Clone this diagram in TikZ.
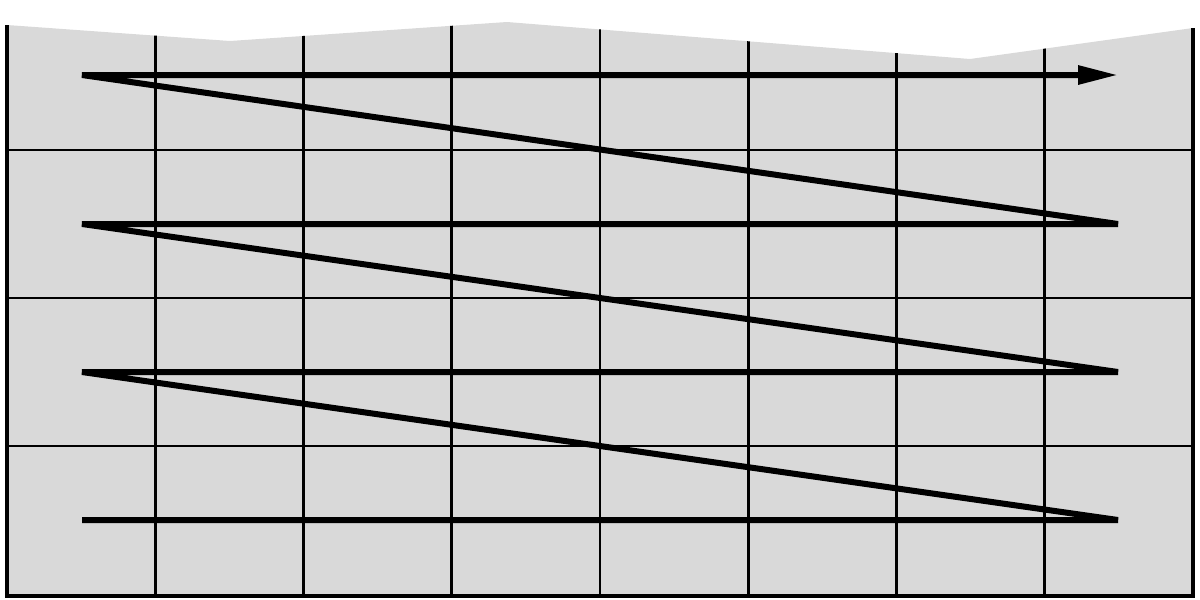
\documentclass[tikz,border=0pt]{standalone}
\usetikzlibrary{arrows.meta}
\definecolor{cellgray}{RGB}{217,217,217}
\tikzset{
  gridline/.style={line width=2.6pt, black},
  edgeline/.style={line width=3.2pt, black},
  scanpath/.style={line width=6pt, black, line join=bevel},
}
\begin{document}
\begin{tikzpicture}[x=1pt,y=-1pt]
\useasboundingbox (0,0) rectangle (1200,600);
% gray area with jagged top
\coordinate (tl) at (7,25);
\coordinate (tr) at (1193,28);
\coordinate (bl) at (7,596);
\coordinate (br) at (1193,596);
\fill[cellgray] (tl) -- (230,41) -- (507,22) -- (970,59) -- (tr) -- (br) -- (bl) -- cycle;
\begin{scope}
  \clip (tl) -- (230,41) -- (507,22) -- (970,59) -- (tr) -- (br) -- (bl) -- cycle;
  \foreach \i in {1,...,7} {
    \draw[gridline] ({7+148.25*\i},0) -- ({7+148.25*\i},596);
  }
  \foreach \y in {150,298,446} {
    \draw[gridline] (7,\y) -- (1193,\y);
  }
\end{scope}
% outer edges
\draw[edgeline] (tl) -- (bl) -- (br) -- (tr);
% raster scan path
\coordinate (s0) at (82,520);
\coordinate (e0) at (1118,520);
\coordinate (s1) at (82,372);
\coordinate (e1) at (1118,372);
\coordinate (s2) at (82,224);
\coordinate (e2) at (1118,224);
\coordinate (s3) at (82,75);
\coordinate (e3) at (1118,75);
\draw[scanpath, -{Triangle[length=40pt,width=18pt]}]
  (s0) -- (e0) -- (s1) -- (e1) -- (s2) -- (e2) -- (s3) -- (e3);
\end{tikzpicture}
\end{document}
